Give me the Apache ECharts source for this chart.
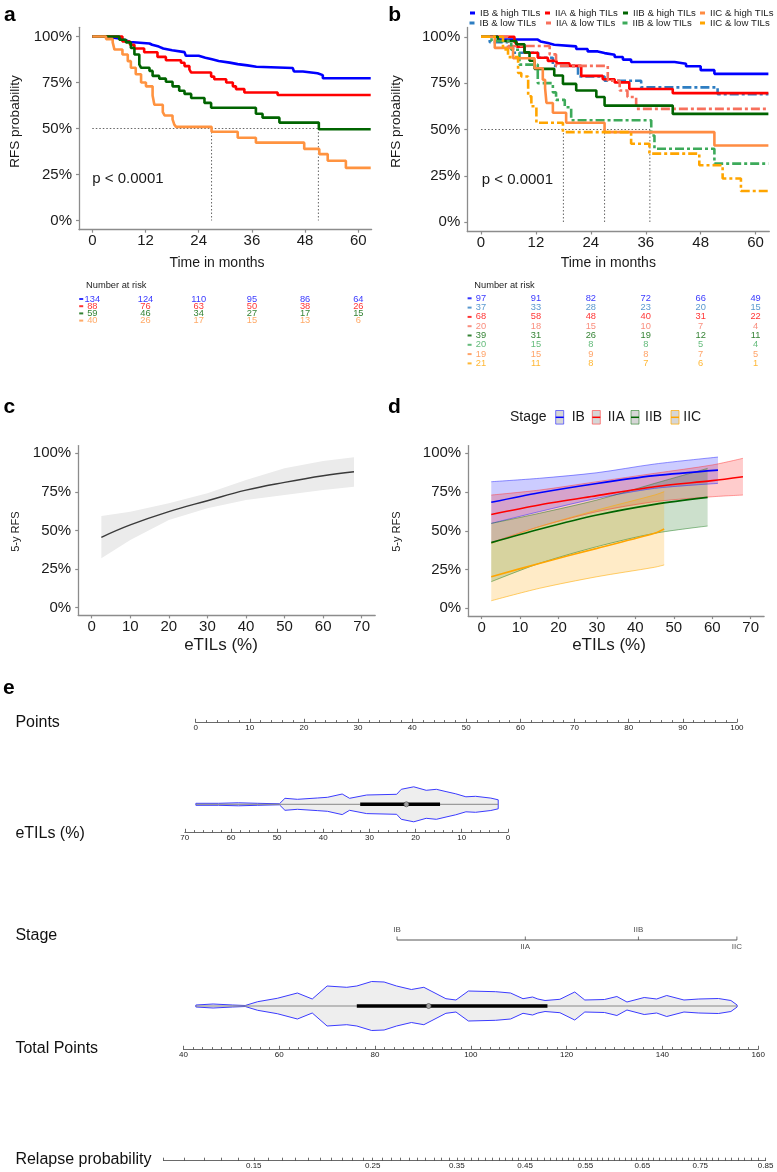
<!DOCTYPE html>
<html><head><meta charset="utf-8">
<script src="https://cdn.jsdelivr.net/npm/echarts@6/dist/echarts.min.js"></script>
<style>html,body{margin:0;padding:0;background:#fff}#c{width:777px;height:1172px}</style>
</head><body><div id="c"></div>
<script>
// ================= DATA =================
const kmTicks = [0, 12, 24, 36, 48, 60];
const pctTicks = [0, 0.25, 0.5, 0.75, 1];
const riskTimes = [0, 12, 24, 36, 48, 60];

// ---- panel a : KM by stage ----
const aNames = ['IB', 'IIA', 'IIB', 'IIC'];
const aIB = [[0,1],[3,0.995],[4.5,0.99],[6,0.98],[7.5,0.97],[8.5,0.962],[12.9,0.955],[13.5,0.945],[15,0.935],[16,0.925],[18,0.915],[20.8,0.905],[21.1,0.895],[24,0.885],[25.5,0.876],[27,0.867],[28.5,0.858],[31,0.85],[32.8,0.843],[35,0.836],[37,0.829],[45.2,0.819],[45.5,0.81],[47.5,0.8],[50.8,0.79],[52,0.773],[62.8,0.773]];
const aIIA = [[0,1],[6.8,0.973],[8.5,0.955],[9.5,0.935],[11.7,0.914],[14.7,0.889],[16.6,0.871],[20,0.857],[20.8,0.839],[21.9,0.821],[22.3,0.804],[26.8,0.782],[27.5,0.768],[30.2,0.75],[31.7,0.729],[32.4,0.714],[34.3,0.696],[41.8,0.682],[62.8,0.682]];
const aIIB = [[0,1],[6.1,0.982],[7.6,0.968],[8.7,0.938],[9.5,0.902],[10.6,0.848],[11,0.83],[12.9,0.813],[13.6,0.786],[15.1,0.771],[16.6,0.754],[18.1,0.729],[19.6,0.705],[20.8,0.688],[22.3,0.666],[25.3,0.639],[26.8,0.613],[36.9,0.58],[38.4,0.559],[42.2,0.532],[51.1,0.496],[62.8,0.496]];
const aIIC = [[0,1],[3.1,0.986],[4.6,0.968],[5,0.929],[6.8,0.902],[8,0.866],[8.7,0.83],[9.8,0.795],[11,0.75],[12.1,0.729],[13.6,0.679],[14,0.629],[15.9,0.589],[16.3,0.571],[18.1,0.55],[18.5,0.521],[18.9,0.509],[26.9,0.482],[32.8,0.45],[36.9,0.423],[47.8,0.389],[51.2,0.361],[53.1,0.325],[57.2,0.286],[62.8,0.286]];
const aMedians = [26.9, 51.0];
const aRiskIB  = [134, 124, 110, 95, 86, 64];
const aRiskIIA = [88, 76, 63, 50, 38, 26];
const aRiskIIB = [59, 46, 34, 27, 17, 15];
const aRiskIIC = [40, 26, 17, 15, 13, 6];

// ---- panel b : KM by stage & TILs ----
const bNames = ['IB & high TILs','IB & low TILs','IIA & high TILs','IIA & low TILs','IIB & high TILs','IIB & low TILs','IIC & high TILs','IIC & low TILs'];
const bIBh = [[0,1],[3.7,0.985],[12.4,0.975],[13,0.966],[14.6,0.957],[16,0.948],[20.8,0.934],[23.3,0.921],[25.5,0.912],[27,0.903],[29.2,0.891],[31,0.877],[32.8,0.864],[42.3,0.855],[44.8,0.841],[48,0.82],[51,0.80],[62.8,0.80]];
const bIBl = [[0,1],[1.9,0.971],[5.9,0.943],[7,0.914],[12.5,0.887],[15.7,0.843],[21.2,0.786],[27,0.763],[35,0.727],[51.7,0.691],[62.8,0.691]];
const bIIAh = [[0,1],[7.3,0.97],[7.8,0.946],[9.5,0.914],[12.4,0.887],[14.6,0.87],[16.5,0.857],[19.3,0.843],[21.9,0.789],[26.6,0.771],[29.2,0.754],[32.4,0.718],[41.9,0.696],[62.8,0.696]];
const bIIAl = [[0,1],[5.9,0.95],[15,0.905],[16.4,0.843],[27.7,0.763],[30.3,0.71],[32,0.675],[33.9,0.611],[62.8,0.611]];
const bIIBh = [[0,1],[3.7,0.977],[7.7,0.96],[9.5,0.916],[10.6,0.871],[11.7,0.827],[16,0.791],[17.9,0.746],[20.8,0.71],[25.2,0.675],[27,0.629],[41.9,0.584],[62.8,0.584]];
const bIIBl = [[0,1],[2.3,0.977],[6.6,0.93],[8.4,0.85],[12.4,0.75],[15.7,0.70],[16.4,0.66],[18.3,0.62],[19.7,0.55],[37.2,0.468],[37.9,0.396],[51,0.316],[62.8,0.316]];
const bIICh = [[0,1],[3,0.94],[7,0.884],[11.7,0.83],[13.5,0.768],[14,0.723],[14.3,0.643],[15.7,0.59],[18.6,0.536],[27,0.486],[51,0.414],[62.8,0.414]];
const bIICl = [[0,1],[4.8,0.932],[5.9,0.89],[8.1,0.805],[8.8,0.786],[10.3,0.679],[11,0.625],[12.1,0.536],[17.9,0.486],[32.8,0.423],[36.8,0.37],[47.7,0.307],[52.8,0.236],[56.8,0.168],[62.8,0.168]];
const bMedians = [18.0, 27.0, 36.9];
const bRiskIBh  = [97, 91, 82, 72, 66, 49];
const bRiskIBl  = [37, 33, 28, 23, 20, 15];
const bRiskIIAh = [68, 58, 48, 40, 31, 22];
const bRiskIIAl = [20, 18, 15, 10, 7, 4];
const bRiskIIBh = [39, 31, 26, 19, 12, 11];
const bRiskIIBl = [20, 15, 8, 8, 5, 4];
const bRiskIICh = [19, 15, 9, 8, 7, 5];
const bRiskIICl = [21, 11, 8, 7, 6, 1];

// ---- panel c : 5-y RFS vs eTILs ----
const eTilTicks = [0, 10, 20, 30, 40, 50, 60, 70];
const cX    = [2.5, 10, 20, 30, 40, 50, 60, 68];
const cFit  = [0.456, 0.536, 0.622, 0.693, 0.762, 0.812, 0.855, 0.881];
const cLow  = [0.32, 0.438, 0.568, 0.644, 0.698, 0.73, 0.762, 0.784];
const cUp   = [0.594, 0.622, 0.676, 0.741, 0.827, 0.903, 0.95, 0.975];

// ---- panel d : 5-y RFS vs eTILs by stage ----
const dNames = ['IB', 'IIA', 'IIB', 'IIC'];
const dIBx  = [2.5, 15, 30, 45, 61.5];
const dIBfit = [0.684, 0.746, 0.806, 0.856, 0.892];
const dIBlow = [0.548, 0.624, 0.71, 0.774, 0.806];
const dIBup  = [0.817, 0.839, 0.875, 0.931, 0.976];
const dIIAx  = [2.5, 15, 30, 45, 60, 68];
const dIIAfit = [0.606, 0.667, 0.727, 0.785, 0.824, 0.849];
const dIIAlow = [0.424, 0.527, 0.624, 0.688, 0.72, 0.731];
const dIIAup  = [0.731, 0.763, 0.817, 0.871, 0.925, 0.968];
const dIIBx  = [2.5, 15, 30, 45, 58.8];
const dIIBfit = [0.424, 0.51, 0.602, 0.671, 0.716];
const dIIBlow = [0.172, 0.29, 0.398, 0.484, 0.531];
const dIIBup  = [0.548, 0.613, 0.699, 0.806, 0.903];
const dIICx  = [2.5, 15, 30, 45, 47.5];
const dIICfit = [0.204, 0.29, 0.387, 0.484, 0.512];
const dIIClow = [0.049, 0.129, 0.204, 0.265, 0.28];
const dIICup  = [0.419, 0.527, 0.634, 0.731, 0.753];

// ---- panel e : nomogram ----
const eTilsVal = [67.6, 62.7, 58.4, 54.2, 49.5, 48.3, 45.6, 41.3, 39.1, 35.9, 34.3, 30.6, 24.1, 23.1, 20.4, 17.7, 15.5, 13.4, 11.3, 9.1, 7, 3.7, 2.1];
const eTilsDen = [1, 1, 1.5, 1, 0.5, 6, 5, 6.3, 7, 10.3, 6, 9.3, 10, 15, 17.5, 14, 15, 12.7, 10.5, 7.5, 8, 6.2, 4.5];
const eTilsBox = [14.7, 22.0, 32.0];
const stageNames = ['IB', 'IIA', 'IIB', 'IIC'];
const stagePoints = [37.2, 60.9, 81.8, 100];
const totVal = [42.6, 46.2, 50.3, 52.9, 55.5, 59.6, 63.8, 66.9, 70, 74.1, 76.2, 79.3, 81.9, 84.5, 87.6, 90.2, 91.7, 94.8, 96.9, 99.5, 105.2, 108.3, 110.9, 112.9, 114, 115.5, 118.6, 121.7, 123.8, 127.9, 130.5, 132.6, 136.2, 138.8, 140.9, 144.5, 147.6, 151.7, 154.3, 155.6];
const totDen = [1, 2, 1, 0.5, 4.3, 7.7, 13, 7, 20, 18.7, 20, 24.5, 24, 20, 16.5, 18.7, 15, 7.3, 6, 15, 14.3, 13, 7.3, 9, 7, 5.5, 6.7, 14, 6, 6.5, 9.5, 4, 8.5, 7, 10.5, 6, 7, 7.5, 5.5, 1];
const totBox = [76.2, 91.2, 116.0];
const relLabelProbs = [0.15, 0.25, 0.35, 0.45, 0.55, 0.65, 0.75, 0.85];
const relRange = [0.10, 0.85];

// ================= BUILD =================
const FONT = '"Liberation Sans", Arial, Helvetica, sans-serif';
const AX = '#8c8c8c';
const grids = [], xAxes = [], yAxes = [], series = [], graphics = [], legends = [];

function addGrid(g, xa, ya) {
  const gi = grids.length;
  grids.push(Object.assign({ containLabel: false }, g));
  xAxes.push(Object.assign({ gridIndex: gi }, xa));
  yAxes.push(Object.assign({ gridIndex: gi }, ya));
  return gi;
}
function txt(x, y, text, o) {
  o = o || {};
  graphics.push({ type: 'text', x, y, rotation: o.rot || 0, silent: true, z: 100,
    style: { text, fill: o.color || '#1a1a1a', font: (o.weight || 'normal') + ' ' + (o.size || 14) + 'px ' + FONT,
      align: o.align || 'left', verticalAlign: 'middle', textAlign: o.align || 'left', textVerticalAlign: 'middle' } });
}
const hideY = (min, max, inv) => ({ type: 'value', min, max, inverse: !!inv, show: false });
const hideX = (min, max) => ({ type: 'value', min, max, show: false });

function plotX(min, max, ticks) {
  return { type: 'value', min, max,
    axisLine: { show: true, onZero: false, lineStyle: { color: AX, width: 1.3 } },
    axisTick: { show: true, customValues: ticks, length: 3, lineStyle: { color: AX, width: 1.2 } },
    axisLabel: { customValues: ticks, fontSize: 15, color: '#1a1a1a', margin: 4, fontFamily: FONT },
    splitLine: { show: false } };
}
function pctY() {
  return { type: 'value', min: -0.05, max: 1.05,
    axisLine: { show: true, onZero: false, lineStyle: { color: AX, width: 1.3 } },
    axisTick: { show: true, customValues: pctTicks, length: 3, lineStyle: { color: AX, width: 1.2 } },
    axisLabel: { customValues: pctTicks, formatter: v => Math.round(v * 100) + '%', fontSize: 15, color: '#1a1a1a', margin: 7, fontFamily: FONT },
    splitLine: { show: false } };
}
function kmLine(gi, name, data, color, dashed, z) {
  return { type: 'line', name, xAxisIndex: gi, yAxisIndex: gi, data, step: 'end', showSymbol: false, symbol: 'none', silent: true, z: z || 3,
    itemStyle: { color }, lineStyle: { color, width: 2.6, type: dashed ? [9, 3, 3, 3] : 'solid' } };
}
function medianLines(gi, meds) {
  const dot = { color: '#555', width: 0.9, type: [1.5, 2] };
  const mk = d => ({ type: 'line', xAxisIndex: gi, yAxisIndex: gi, data: d, showSymbol: false, symbol: 'none', silent: true, z: 2, lineStyle: dot });
  series.push(mk([[0, 0.5], [Math.max(...meds), 0.5]]));
  meds.forEach(m => series.push(mk([[m, 0.5], [m, 0]])));
}
function riskRows(gi, rows, colors) {
  rows.forEach((counts, r) => {
    series.push({ type: 'scatter', xAxisIndex: gi, yAxisIndex: gi, silent: true, symbolSize: 1,
      itemStyle: { color: 'rgba(0,0,0,0)' },
      data: riskTimes.map((t, i) => [t, r, counts[i]]),
      label: { show: true, position: 'inside', formatter: p => p.value[2], color: colors[r], fontSize: 9.3, fontFamily: FONT } });
    series.push({ type: 'scatter', xAxisIndex: gi, yAxisIndex: gi, silent: true, symbol: 'rect', symbolSize: [4, 2],
      itemStyle: { color: colors[r] }, data: [[-2.5, r]] });
  });
}
function polygon(gi, pts, fill, z) {
  return { type: 'custom', xAxisIndex: gi, yAxisIndex: gi, silent: true, z: z || 1, data: [pts[0]],
    renderItem: (params, api) => ({ type: 'polygon', shape: { points: pts.map(p => api.coord(p)) }, style: { fill: fill, stroke: null } }) };
}
const zip = (xs, ys) => xs.map((x, i) => [x, ys[i]]);

// ---------- Panel a ----------
const aColors = ['#0000FF', '#FF0000', '#006400', '#FF9340'];
const gA = addGrid({ left: 79, top: 27.3, width: 292.6, height: 202.4 }, plotX(-3, 63, kmTicks), pctY());
medianLines(gA, aMedians);
[aIB, aIIA, aIIB, aIIC].forEach((d, i) => series.push(kmLine(gA, aNames[i], d, aColors[i], false, 3 + i)));
const gAr = addGrid({ left: 79, top: 295.4, width: 292.6, height: 28.8 }, hideX(-3, 63), hideY(-0.5, 3.5, true));
riskRows(gAr, [aRiskIB, aRiskIIA, aRiskIIB, aRiskIIC], aColors);

// ---------- Panel b ----------
const bColors = ['#0000FF', '#2E7EC2', '#FF0000', '#F7705C', '#006400', '#3DAA5A', '#FF8C42', '#FFA500'];
const bData = [bIBh, bIBl, bIIAh, bIIAl, bIIBh, bIIBl, bIICh, bIICl];
const gB = addGrid({ left: 467.3, top: 27.5, width: 302, height: 204 }, plotX(-3, 63, kmTicks), pctY());
medianLines(gB, bMedians);
bData.forEach((d, i) => series.push(kmLine(gB, bNames[i], d, bColors[i], i % 2 === 1, 3 + i)));
const gBr = addGrid({ left: 467.3, top: 293.65, width: 302, height: 74.4 }, hideX(-3, 63), hideY(-0.5, 7.5, true));
riskRows(gBr, [bRiskIBh, bRiskIBl, bRiskIIAh, bRiskIIAl, bRiskIIBh, bRiskIIBl, bRiskIICh, bRiskIICl], bColors);
// legend of b: 4 columns x 2 rows (high row, low row)
const legSymX = [[470, 545, 623, 700], [469.5, 546, 622.5, 700]];
const legRowY = [14, 24];
bNames.forEach((n, i) => {
  const col = Math.floor(i / 2), row = i % 2;
  legends.push({ left: legSymX[row][col], top: legRowY[row] - 6, padding: 0, itemWidth: 5, itemHeight: 3, icon: 'rect',
    selectedMode: false, data: [n], textStyle: { fontSize: 9.6, color: '#222', fontFamily: FONT } });
});

// ---------- Panel c ----------
const gC = addGrid({ left: 78.2, top: 445.6, width: 297, height: 169.8 }, plotX(-3.5, 73.5, eTilTicks), pctY());
series.push(polygon(gC, zip(cX, cUp).concat(zip(cX, cLow).reverse()), '#EBEBEB', 1));
series.push({ type: 'line', xAxisIndex: gC, yAxisIndex: gC, data: zip(cX, cFit), smooth: 0.4, showSymbol: false, symbol: 'none', silent: true, z: 3,
  lineStyle: { color: '#3a3a3a', width: 1.4 } });

// ---------- Panel d ----------
const dColors = ['#0000FF', '#FF0000', '#006400', '#FFA500'];
const dFills = ['rgba(0,0,255,0.2)', 'rgba(255,0,0,0.2)', 'rgba(0,100,0,0.2)', 'rgba(255,165,0,0.22)'];
const dEdges = ['rgba(60,60,255,0.7)', 'rgba(255,60,60,0.6)', 'rgba(0,110,0,0.5)', 'rgba(255,170,0,0.7)'];
const dSets = [[dIBx, dIBfit, dIBlow, dIBup], [dIIAx, dIIAfit, dIIAlow, dIIAup], [dIIBx, dIIBfit, dIIBlow, dIIBup], [dIICx, dIICfit, dIIClow, dIICup]];
const gD = addGrid({ left: 468.2, top: 445.6, width: 295.9, height: 170.5 }, plotX(-3.5, 73.5, eTilTicks), pctY());
dSets.forEach((s, i) => {
  series.push(polygon(gD, zip(s[0], s[3]).concat(zip(s[0], s[2]).reverse()), dFills[i], 1 + i * 0.01));
  [s[2], s[3]].forEach(edge => series.push({ type: 'line', xAxisIndex: gD, yAxisIndex: gD, data: zip(s[0], edge), smooth: 0.3, showSymbol: false, symbol: 'none', silent: true, z: 2,
    lineStyle: { color: dEdges[i], width: 0.8 } }));
});
dSets.forEach((s, i) => series.push({ type: 'line', name: 'd' + dNames[i], xAxisIndex: gD, yAxisIndex: gD, data: zip(s[0], s[1]), smooth: 0.3, showSymbol: false, symbol: 'none', silent: true, z: 4,
  lineStyle: { color: dColors[i], width: 1.6 } }));
// legend of d
txt(510, 417.3, 'Stage', { size: 14 });
const dKeyX = [555.7, 592.3, 631, 671], dKeyTx = [571.7, 607.7, 645, 683.3];
dNames.forEach((n, i) => {
  graphics.push({ type: 'rect', shape: { x: dKeyX[i], y: 410.5, width: 8, height: 13.6 }, style: { fill: '#D6D6D6', stroke: dEdges[i], lineWidth: 1 }, silent: true, z: 100 });
  graphics.push({ type: 'line', shape: { x1: dKeyX[i], y1: 417.3, x2: dKeyX[i] + 8, y2: 417.3 }, style: { stroke: dColors[i], lineWidth: 1.5 }, silent: true, z: 101 });
  txt(dKeyTx[i], 417.3, n, { size: 14 });
});

// ---------- Panel e : nomogram ----------
const NC = '#444';
function nomoX(min, max, interval, minorSplit, inverse) {
  return { type: 'value', min, max, interval, inverse: !!inverse,
    axisLine: { show: true, onZero: false, lineStyle: { color: NC, width: 0.8 } },
    axisTick: { show: true, inside: true, length: 3.5, lineStyle: { color: NC, width: 0.8 } },
    minorTick: { show: true, splitNumber: minorSplit, length: 2.2, lineStyle: { color: NC, width: 0.8 } },
    axisLabel: { fontSize: 8, color: '#222', margin: 1.5, fontFamily: FONT },
    splitLine: { show: false }, minorSplitLine: { show: false } };
}
// Points
addGrid({ left: 195.7, top: 700, width: 541.2, height: 22.3 }, nomoX(0, 100, 10, 5), hideY(0, 1));
// eTILs violin + axis
const gE = addGrid({ left: 184.8, top: 776.3, width: 323.1, height: 56 }, nomoX(0, 70, 10, 5, true), hideY(-28, 28));
function violin(gi, vals, dens, box) {
  const up = vals.map((v, i) => [v, dens[i]]), lo = vals.map((v, i) => [v, -dens[i]]);
  const pts = up.concat(lo.reverse());
  series.push({ type: 'custom', xAxisIndex: gi, yAxisIndex: gi, silent: true, z: 1, data: [pts[0]],
    renderItem: (params, api) => ({ type: 'polygon', shape: { points: pts.map(p => api.coord(p)) }, style: { fill: '#EEEEEE', stroke: '#3B3BFF', lineWidth: 1 } }) });
  series.push({ type: 'line', xAxisIndex: gi, yAxisIndex: gi, data: [[vals[0], 0], [vals[vals.length - 1], 0]], showSymbol: false, symbol: 'none', silent: true, z: 2, lineStyle: { color: '#888', width: 1 } });
  series.push({ type: 'line', xAxisIndex: gi, yAxisIndex: gi, data: [[box[0], 0], [box[2], 0]], showSymbol: false, symbol: 'none', silent: true, z: 3, lineStyle: { color: '#000', width: 3.6 } });
  series.push({ type: 'scatter', xAxisIndex: gi, yAxisIndex: gi, data: [[box[1], 0]], symbol: 'circle', symbolSize: 5, silent: true, z: 4, itemStyle: { color: '#C8C8C8', borderColor: '#333', borderWidth: 0.8 } });
}
violin(gE, eTilsVal, eTilsDen, eTilsBox);
// Stage
const gS = addGrid({ left: 195.7, top: 930, width: 541.2, height: 20 }, hideX(0, 100), hideY(-1, 1));
series.push({ type: 'line', xAxisIndex: gS, yAxisIndex: gS, data: [[stagePoints[0], 0], [stagePoints[stagePoints.length - 1], 0]], showSymbol: false, symbol: 'none', silent: true, lineStyle: { color: NC, width: 0.9 } });
series.push({ type: 'scatter', xAxisIndex: gS, yAxisIndex: gS, silent: true, symbol: 'rect', symbolSize: [0.9, 3.5], symbolOffset: [0, -1.75], itemStyle: { color: NC },
  data: stagePoints.map((p, i) => ({ value: [p, 0], label: { show: true, position: i % 2 === 0 ? 'top' : 'bottom', distance: i % 2 === 0 ? 2.5 : 3, formatter: stageNames[i], fontSize: 8, color: '#222', fontFamily: FONT } })) });
// Total points violin + axis
const gT = addGrid({ left: 183.4, top: 962.7, width: 574.8, height: 86.6 }, nomoX(40, 160, 20, 10), hideY(-43.3, 43.3));
violin(gT, totVal, totDen, totBox);
// Relapse probability (complementary log-log scale)
const cll = p => Math.log(-Math.log(1 - p));
const relTickProbs = []; for (let k = Math.round(relRange[0] * 100); k <= Math.round(relRange[1] * 100); k++) relTickProbs.push(k / 100);
addGrid({ left: 163.5, top: 1150, width: 602.1, height: 10.7 },
  { type: 'value', min: cll(relRange[0]), max: cll(relRange[1]),
    axisLine: { show: true, onZero: false, lineStyle: { color: NC, width: 0.8 } },
    axisTick: { show: true, inside: true, length: 3, customValues: relTickProbs.map(cll), lineStyle: { color: NC, width: 0.8 } },
    axisLabel: { customValues: relLabelProbs.map(cll), formatter: v => (1 - Math.exp(-Math.exp(v))).toFixed(2), fontSize: 8, color: '#222', margin: 1.5, fontFamily: FONT },
    splitLine: { show: false } }, hideY(0, 1));

// ---------- texts ----------
txt(4, 15, 'a', { size: 21, weight: 'bold', color: '#000' });
txt(388.3, 15, 'b', { size: 21, weight: 'bold', color: '#000' });
txt(3.5, 407.6, 'c', { size: 21, weight: 'bold', color: '#000' });
txt(388, 407.6, 'd', { size: 21, weight: 'bold', color: '#000' });
txt(3, 688, 'e', { size: 21, weight: 'bold', color: '#000' });
txt(15, 121.5, 'RFS probability', { size: 13.5, rot: Math.PI / 2, align: 'center' });
txt(396.7, 121.5, 'RFS probability', { size: 13.5, rot: Math.PI / 2, align: 'center' });
txt(217, 262.7, 'Time in months', { size: 14, align: 'center' });
txt(608.3, 262.7, 'Time in months', { size: 14, align: 'center' });
txt(92.3, 179.3, 'p < 0.0001', { size: 15 });
txt(481.7, 180, 'p < 0.0001', { size: 15 });
txt(86, 285.7, 'Number at risk', { size: 9.3, color: '#222' });
txt(474.3, 285.7, 'Number at risk', { size: 9.3, color: '#222' });
txt(15.7, 531.7, '5-y RFS', { size: 11, rot: Math.PI / 2, align: 'center' });
txt(396.7, 531.7, '5-y RFS', { size: 11, rot: Math.PI / 2, align: 'center' });
txt(221, 645, 'eTILs (%)', { size: 17, align: 'center' });
txt(609, 645, 'eTILs (%)', { size: 17, align: 'center' });
txt(15.4, 722.3, 'Points', { size: 16, color: '#111' });
txt(15.4, 833.3, 'eTILs (%)', { size: 16, color: '#111' });
txt(15.4, 935.7, 'Stage', { size: 16, color: '#111' });
txt(15.4, 1048.3, 'Total Points', { size: 16, color: '#111' });
txt(15.4, 1159.3, 'Relapse probability', { size: 16, color: '#111' });

const chart = echarts.init(document.getElementById('c'), null, { renderer: 'canvas' });
chart.setOption({
  animation: false, backgroundColor: '#ffffff', textStyle: { fontFamily: FONT },
  grid: grids, xAxis: xAxes, yAxis: yAxes, legend: legends, series, graphic: { elements: graphics }
});
</script>
</body></html>
